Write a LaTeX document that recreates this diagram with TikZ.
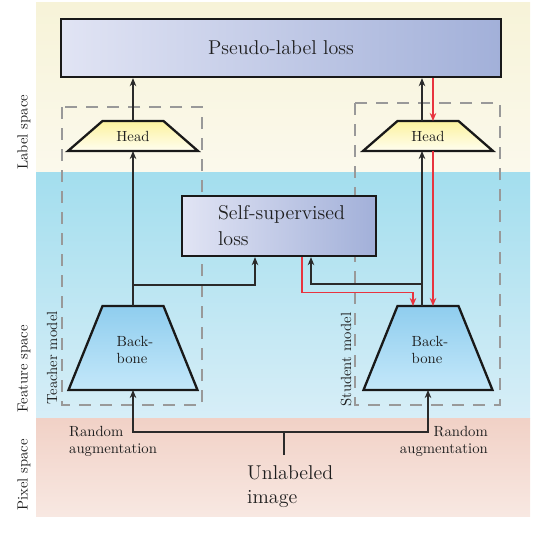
\documentclass[tikz,border=0pt]{standalone}
\usepackage{fontspec}
\setmainfont{lmroman10-regular.otf}
\newfontfamily\bigfamily{lmroman12-regular.otf}
\usetikzlibrary{arrows.meta,calc}
\definecolor{bandYT}{HTML}{F7F3D8}
\definecolor{bandYB}{HTML}{FBF9EC}
\definecolor{bandBT}{HTML}{A3DEEE}
\definecolor{bandBB}{HTML}{D7EEF7}
\definecolor{bandPT}{HTML}{F1D1C6}
\definecolor{bandPB}{HTML}{F8E8E2}
\definecolor{lossL}{HTML}{E1E4F4}
\definecolor{lossR}{HTML}{A2B0D9}
\definecolor{headT}{HTML}{FCF29E}
\definecolor{headB}{HTML}{FFFEF0}
\definecolor{bbT}{HTML}{8FCDEE}
\definecolor{bbB}{HTML}{C4E8FA}
\definecolor{dashgray}{HTML}{999999}
\definecolor{lossred}{HTML}{E8343F}
\definecolor{linegray}{HTML}{2A2A2A}
\definecolor{txt}{HTML}{1E1E1E}
\newcommand{\drawtrap}[3]{\path[#3] (#1.south west) -- (#1.south east) -- ($(#1.north east)+(-#2,0)$) -- ($(#1.north west)+(#2,0)$) -- cycle;}
\begin{document}
\begin{tikzpicture}[x=1pt,y=-1pt,
  bigfont/.style={font=\bigfamily\fontsize{20}{24}\selectfont},
  smallfont/.style={font=\fontsize{14.7}{17}\selectfont},
  arr/.style={draw=linegray, line width=1.1pt, -{Stealth[length=8pt,width=6.5pt,inset=2.5pt]}},
  redarr/.style={draw=lossred, line width=1.3pt, -{Stealth[length=8pt,width=6.5pt,inset=2.5pt]}},
  plainline/.style={draw=linegray, line width=1.1pt},
  lossbox/.style={draw=black!90, line width=2.3pt, left color=lossL, right color=lossR, inner sep=0pt, text=txt},
  trapbox/.style={inner sep=0pt, outer sep=0pt},
  headshape/.style={draw=black!90, line width=2.3pt, top color=headT, bottom color=headB},
  bbshape/.style={draw=black!90, line width=2.3pt, top color=bbT, bottom color=bbB},
  modelbox/.style={draw=dashgray, line width=2.5pt, dash pattern=on 12pt off 9pt},
  bandlabel/.style={smallfont, rotate=90, anchor=west, inner sep=0pt, text=txt},
  band/.style={draw=none}]
\useasboundingbox (0,0) rectangle (548,550);
% bands
\path[band, top color=bandYT, bottom color=bandYB] (36,2) rectangle (530,172);
\path[band, top color=bandBT, bottom color=bandBB] (36,172) rectangle (530,418);
\path[band, top color=bandPT, bottom color=bandPB] (36,418) rectangle (530,516);
\node[bandlabel] (lblspace) at (24,170) {Label space};
\node[bandlabel] (featspace) at (24,413) {Feature space};
\node[bandlabel] (pixspace) at (24,511) {Pixel space};
% model boxes
\draw[modelbox] (62,107) rectangle (202,405);
\draw[modelbox] (355,103) rectangle (500,405);
\node[bandlabel] (teacher) at (52,405) {Teacher model};
\node[bandlabel] (student) at (346,407) {Student model};
% losses
\node[lossbox, bigfont, minimum width=440pt, minimum height=58pt] (pl) at (281,48) {Pseudo-label loss};
\node[lossbox, font=\bigfamily\fontsize{20}{26}\selectfont, align=left, minimum width=194pt, minimum height=60pt] (ssl) at (279,226) {\hspace*{5pt}Self-supervised\\\hspace*{5pt}loss};
% heads
\node[trapbox, minimum width=130pt, minimum height=30pt] (th) at (133,136) {};
\drawtrap{th}{34.5}{headshape}
\node[smallfont, text=txt] (thtxt) at (th) {Head};
\node[trapbox, minimum width=130pt, minimum height=30pt] (sh) at (428,136) {};
\drawtrap{sh}{34.5}{headshape}
\node[smallfont, text=txt] (shtxt) at (sh) {Head};
% backbones
\node[trapbox, minimum width=129pt, minimum height=84pt] (tbb) at (133,348) {};
\drawtrap{tbb}{34}{bbshape}
\node[smallfont, text=txt, align=left] (tbbtxt) at (135,350) {Back-\\bone};
\node[trapbox, minimum width=129pt, minimum height=84pt] (sbb) at (428,348) {};
\drawtrap{sbb}{34}{bbshape}
\node[smallfont, text=txt, align=left] (sbbtxt) at (430,350) {Back-\\bone};
% pixel space texts
\node[bigfont, text=txt, align=left, anchor=north west, inner sep=0pt] (ui) at (247,465) {Unlabeled\\image};
\node[smallfont, text=txt, align=left, anchor=north west, inner sep=0pt] (augl) at (69,426) {Random\\augmentation};
\node[smallfont, text=txt, align=right, anchor=north east, inner sep=0pt] (augr) at (488,426) {Random\\augmentation};
% teacher connectors
\draw[arr] (tbb.north) -- (th.south);
\draw[arr] (th.north) -- (th.north |- pl.south);
\coordinate (tj) at (133,285);
\draw[arr] (tj) -| ($(ssl.south)+(-24,0)$);
% student connectors
\draw[arr] ($(sbb.north)+(-6,0)$) -- ($(sh.south)+(-6,0)$);
\draw[arr] ($(sh.north)+(-6,0)$) -- ($(sh.north |- pl.south)+(-6,0)$);
\coordinate (sj) at (422,284);
\draw[arr] (sj) -| ($(ssl.south)+(32,0)$);
% gradient flow
\draw[redarr] ($(sh.north |- pl.south)+(5,0)$) -- ($(sh.north)+(5,0)$);
\draw[redarr] ($(sh.south)+(5,0)$) -- ($(sbb.north)+(5,0)$);
\draw[redarr] ($(ssl.south)+(23,0)$) -- ++(0,35) -| ($(sbb.north)+(-15,0)$);
% input
\coordinate (split) at (284,432);
\coordinate (stub) at (284,455);
\draw[plainline] (stub) -- (split);
\draw[arr] (split) -| (tbb.south);
\draw[arr] (split) -| (sbb.south);
\end{tikzpicture}
\end{document}
